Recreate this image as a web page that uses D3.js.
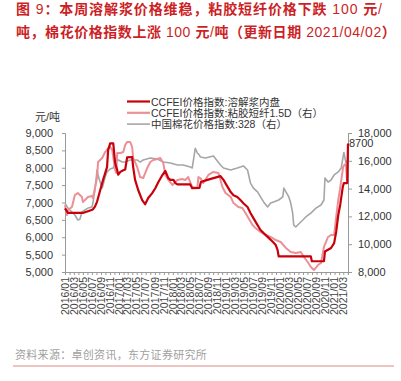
<!DOCTYPE html>
<html><head><meta charset="utf-8">
<script src="https://cdn.jsdelivr.net/npm/d3@7/dist/d3.min.js"></script>
<style>
html,body{margin:0;padding:0;background:#fff;}
svg{display:block;}
</style></head>
<body>
<svg id="c" width="401" height="381"></svg>
<script>
// ---- data ----
const titleLines = [
  "图 9：本周溶解浆价格维稳，粘胶短纤价格下跌 100 元/",
  "吨，棉花价格指数上涨 100 元/吨（更新日期 2021/04/02）"
];
const sourceText = "资料来源：卓创资讯，东方证券研究所";
const seriesNames = ["CCFEI价格指数:溶解浆内盘", "CCFEI价格指数:粘胶短纤1.5D（右）", "中国棉花价格指数:328（右）"];
const leftTicks = [5000,5500,6000,6500,7000,7500,8000,8500,9000];
const rightTicks = [8000,10000,12000,14000,16000,18000];
const leftUnit = "元/吨";
const endLabel = "8700";

const pulpDates = ["2016-01-01","2016-01-21","2016-05-01","2016-06-05","2016-07-08","2016-07-22","2016-08-05","2016-09-15","2016-10-12","2016-10-19","2016-11-02","2016-11-23","2016-12-06","2016-12-20","2016-12-27","2017-01-10","2017-01-30","2017-02-12","2017-02-25","2017-03-31","2017-04-07","2017-04-20","2017-05-11","2017-06-07","2017-06-27","2017-07-18","2017-08-14","2017-09-04","2017-09-25","2017-10-22","2017-11-11","2017-12-01","2017-12-15","2018-01-05","2018-01-18","2018-02-01","2018-04-29","2018-05-12","2018-06-30","2018-07-10","2018-08-23","2018-10-03","2018-11-20","2018-12-10","2019-01-07","2019-01-28","2019-02-16","2019-03-14","2019-04-04","2019-04-24","2019-05-22","2019-06-11","2019-07-01","2019-07-29","2019-08-18","2019-09-08","2019-10-05","2019-11-09","2019-11-29","2019-12-12","2019-12-19","2020-07-24","2020-07-31","2020-10-21","2020-10-28","2020-12-08","2020-12-29","2021-01-12","2021-01-26","2021-02-08","2021-02-26","2021-03-05","2021-03-28","2021-04-02"];
const pulpValues = [6830,6700,6700,6750,6800,6880,7020,7650,8020,8500,8700,8700,8130,7930,7800,7880,7930,7950,8300,8310,8020,7650,7360,7070,6950,7130,7270,7410,7590,7790,7910,7700,7650,7650,7560,7520,7520,7410,7420,7590,7650,7700,7760,7650,7450,7300,7210,7160,7070,6980,6870,6700,6550,6350,6210,6120,6010,5870,5780,5630,5450,5450,5310,5310,5590,5690,5830,6160,6640,6930,7455,7560,7560,8700];

const vsfDates = ["2016-01-01","2016-01-14","2016-01-21","2016-02-17","2016-03-08","2016-03-28","2016-04-25","2016-05-01","2016-05-15","2016-06-05","2016-07-02","2016-07-08","2016-08-05","2016-08-12","2016-09-09","2016-09-29","2016-10-19","2016-11-02","2016-11-16","2016-11-23","2016-12-06","2016-12-13","2016-12-20","2017-01-10","2017-01-30","2017-02-12","2017-02-25","2017-03-17","2017-03-31","2017-04-07","2017-05-04","2017-05-24","2017-06-14","2017-07-11","2017-08-01","2017-08-21","2017-09-18","2017-10-08","2017-10-28","2017-11-11","2017-12-01","2017-12-29","2018-02-01","2018-03-05","2018-03-26","2018-04-15","2018-05-12","2018-06-16","2018-06-23","2018-07-06","2018-07-26","2018-08-30","2018-10-03","2018-11-06","2018-12-03","2018-12-24","2019-01-28","2019-02-16","2019-03-21","2019-04-17","2019-05-08","2019-05-28","2019-06-25","2019-07-15","2019-08-18","2019-09-21","2019-10-26","2019-11-29","2020-01-02","2020-02-06","2020-03-10","2020-04-13","2020-05-17","2020-06-07","2020-07-03","2020-07-24","2020-08-14","2020-09-11","2020-10-01","2020-10-21","2020-11-18","2020-12-08","2020-12-29","2021-01-12","2021-01-26","2021-02-08","2021-02-28","2021-03-12","2021-03-19","2021-03-26","2021-04-02"];
const vsfValues = [12820,12100,12460,12680,13540,13680,13400,13040,13180,13400,13470,13320,14760,15910,16200,16630,16900,17000,16780,16280,15340,15120,16560,16560,16630,17140,17360,17360,17000,16200,15560,14830,14760,15480,15910,16060,16130,16200,15840,14980,14620,14260,14620,14690,14620,14830,14110,14040,14830,14760,14400,14980,15200,15120,14110,13680,13400,12960,12680,12600,12240,11880,11380,11160,10880,10660,10520,10300,10160,9730,9440,9370,9440,9080,8720,8360,8140,8500,8650,9800,10520,10660,10660,11960,13180,14040,15560,15750,15750,14650,14600];

const cottonDates = ["2016-01-01","2016-01-21","2016-02-17","2016-03-08","2016-03-28","2016-04-11","2016-04-25","2016-05-15","2016-06-05","2016-07-02","2016-07-08","2016-07-22","2016-08-05","2016-08-12","2016-08-26","2016-09-09","2016-09-15","2016-09-29","2016-10-12","2016-11-02","2016-11-23","2016-12-06","2016-12-27","2017-01-23","2017-02-12","2017-03-17","2017-05-04","2017-05-24","2017-06-14","2017-08-01","2017-09-18","2017-10-28","2017-12-15","2018-02-01","2018-03-12","2018-04-29","2018-05-12","2018-06-02","2018-06-16","2018-06-30","2018-07-06","2018-08-10","2018-10-03","2018-11-20","2018-12-10","2019-01-28","2019-03-14","2019-04-24","2019-05-22","2019-06-11","2019-07-01","2019-07-29","2019-08-18","2019-09-08","2019-10-05","2019-10-26","2019-11-15","2019-12-19","2020-01-16","2020-01-23","2020-02-06","2020-02-26","2020-03-10","2020-03-23","2020-03-30","2020-04-13","2020-05-03","2020-05-31","2020-06-20","2020-07-24","2020-08-28","2020-10-01","2020-10-21","2020-10-28","2020-11-18","2020-12-08","2020-12-29","2021-01-26","2021-02-15","2021-03-05","2021-03-19","2021-04-02"];
const cottonValues = [12960,12600,12320,12100,11740,11800,12320,12460,12600,12680,12960,13900,15340,14980,14470,14040,14260,14830,15200,15410,15480,15910,16060,15910,15910,16060,16060,15910,16060,16200,16130,15910,15840,15700,15700,15560,15480,16900,16560,16420,16270,16200,16350,15700,15480,15340,15480,15630,15340,14400,14040,13760,13400,13040,12680,12960,13040,13180,13400,14040,13760,13400,12960,12240,11380,11240,11450,11740,11960,12240,12600,12820,13180,14760,14470,14620,14980,15200,15480,16600,15850,16100];

// ---- layout ----
const svg = d3.select("#c");
const FONT = "'Liberation Sans', Arial, 'Noto Sans CJK SC', sans-serif";
const L = 65, R = 348, T = 133, B = 272;
const parse = d3.timeParse("%Y-%m-%d");
const x = d3.scaleTime().domain([parse("2016-01-01"), parse("2021-04-02")]).range([L, R]);
const yL = d3.scaleLinear().domain([5000, 9000]).range([B, T]);
const yR = d3.scaleLinear().domain([8000, 18000]).range([B, T]);

// title: CJK bold, latin runs regular
const red = "#cc1f26";
titleLines.forEach((line, i) => {
  const t = svg.append("text").attr("x", 16).attr("y", 14 + i*23)
    .attr("font-family", FONT).attr("font-size", 14)
    .attr("letter-spacing", i === 0 ? 0.9 : 0.55).attr("fill", red);
  line.split(/([0-9A-Za-z\/ ]+)/).filter(s => s.length).forEach(seg => {
    const latin = /^[0-9A-Za-z\/ ]+$/.test(seg);
    t.append("tspan").attr("font-weight", latin ? "normal" : "bold").text(seg);
  });
});

// axes
const axisColor = "#999";
const gL = svg.append("g").attr("transform", `translate(${L},0)`)
  .call(d3.axisLeft(yL).tickValues(leftTicks).tickSize(3).tickPadding(9).tickFormat(d3.format(",")));
const gR = svg.append("g").attr("transform", `translate(${R},0)`)
  .call(d3.axisRight(yR).tickValues(rightTicks).tickSize(4).tickPadding(6).tickFormat(d3.format(",")));
const monthTicks = d3.timeMonth.range(parse("2016-01-01"), parse("2021-04-02"));
const gX = svg.append("g").attr("transform", `translate(0,${B})`)
  .call(d3.axisBottom(x).tickValues(monthTicks).tickSize(3).tickFormat(""));
[gL, gR, gX].forEach(g => {
  g.select(".domain").attr("stroke", axisColor);
  g.selectAll(".tick line").attr("stroke", axisColor);
  g.selectAll("text").attr("font-family", FONT).attr("font-size", 11).attr("fill", "#333");
});
const fmt = d3.timeFormat("%Y/%m");
svg.append("g").selectAll("text").data(monthTicks.filter(d => d.getMonth() % 2 === 0)).enter().append("text")
  .attr("transform", d => `translate(${x(d)},${B+5}) rotate(-90)`)
  .attr("text-anchor", "end").attr("dy", "0.36em")
  .attr("font-family", FONT).attr("font-size", 10.5).attr("fill", "#444")
  .text(d => fmt(d));

svg.append("text").attr("x", 60).attr("y", 121).attr("text-anchor", "end")
  .attr("font-family", FONT).attr("font-size", 11).attr("fill", "#333").text(leftUnit);

// lines
function mk(dates, vals){ return dates.map((d,i)=>({date: parse(d), v: vals[i]})); }
const series = [
  {data: mk(cottonDates, cottonValues), y: yR, color: "#a6a6a6", w: 1.6},
  {data: mk(vsfDates, vsfValues), y: yR, color: "#ec8f96", w: 2},
  {data: mk(pulpDates, pulpValues), y: yL, color: "#c8000a", w: 2.2}
];
series.forEach(s => {
  svg.append("path").datum(s.data)
    .attr("fill", "none").attr("stroke", s.color).attr("stroke-width", s.w)
    .attr("stroke-linejoin", "round")
    .attr("d", d3.line().x(d=>x(d.date)).y(d=>s.y(d.v)));
});

// end label
const lastPulp = pulpValues[pulpValues.length-1];
svg.append("text").attr("x", R + 1).attr("y", yL(lastPulp) + 4)
  .attr("font-family", FONT).attr("font-size", 11).attr("fill", "#333").text(endLabel);

// legend
const legColors = ["#c8000a", "#ec8f96", "#a6a6a6"];
const legW = [2.2, 2.2, 1.6];
const lg = svg.append("g");
seriesNames.forEach((n,i) => {
  const yy = 101.5 + i*11.3;
  lg.append("line").attr("x1",127).attr("x2",150).attr("y1",yy).attr("y2",yy)
    .attr("stroke", legColors[i]).attr("stroke-width", legW[i]);
  lg.append("text").attr("x",151).attr("y",yy+4)
    .attr("font-family", FONT).attr("font-size", 10.5).attr("fill", "#333").text(n);
});

// source
svg.append("text").attr("x", 15).attr("y", 359)
  .attr("font-family", FONT).attr("font-size", 11).attr("letter-spacing", 0.3).attr("fill", "#a0a0a0").text(sourceText);
svg.append("line").attr("x1", 13).attr("x2", 394).attr("y1", 366).attr("y2", 366)
  .attr("stroke", "#dd8a84").attr("stroke-width", 1);
</script>
</body></html>
